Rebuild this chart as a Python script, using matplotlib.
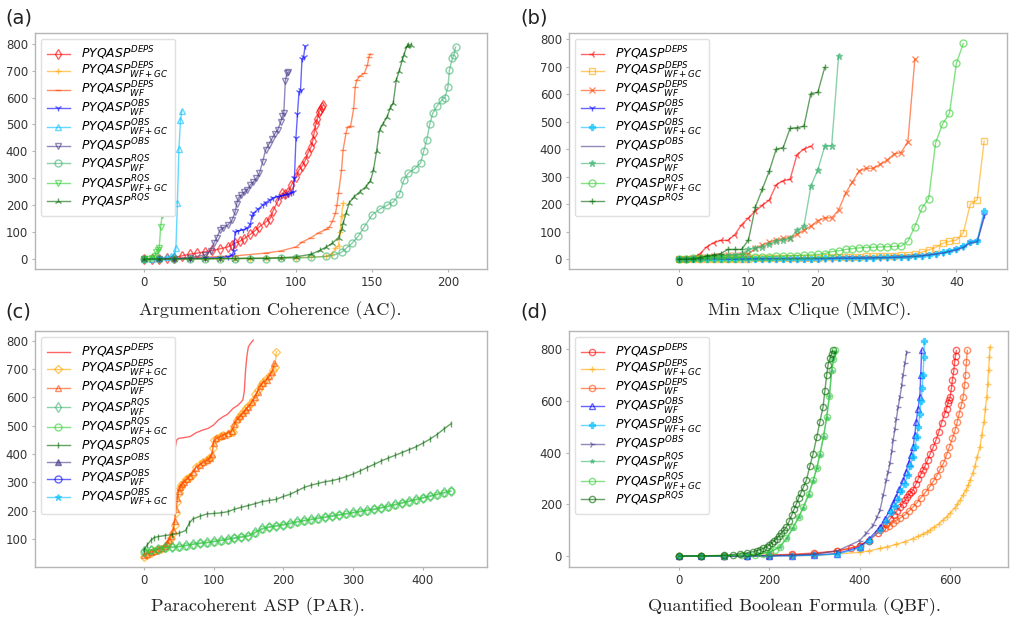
import numpy as np
import matplotlib
matplotlib.use("Agg")
import matplotlib.pyplot as plt

# ---------------- labels ----------------
L_DEPS = r'$PYQASP^{DEPS}$'
L_DEPS_WFGC = r'$PYQASP^{DEPS}_{WF+GC}$'
L_DEPS_WF = r'$PYQASP^{DEPS}_{WF}$'
L_OBS_WF = r'$PYQASP^{OBS}_{WF}$'
L_OBS_WFGC = r'$PYQASP^{OBS}_{WF+GC}$'
L_OBS = r'$PYQASP^{OBS}$'
L_RQS_WF = r'$PYQASP^{RQS}_{WF}$'
L_RQS_WFGC = r'$PYQASP^{RQS}_{WF+GC}$'
L_RQS = r'$PYQASP^{RQS}$'

CAPTIONS = ["Argumentation Coherence (AC).", "Min Max Clique (MMC).",
            "Paracoherent ASP (PAR).", "Quantified Boolean Formula (QBF)."]
PANEL_TAGS = ["(a)", "(b)", "(c)", "(d)"]

# ---------------- (a) AC ----------------
AC_DEPS_X = [0,5,10,15,20,25,30,35,40,45,50,55,58,60,63,66,70,73,76,80,83,85,88,91,93,95,97,100,102,104,106,108,110,111,112,113,114,115,116,117,118]
AC_DEPS_Y = [0,1,2,3,5,12,18,22,27,32,38,45,52,59,66,76,92,105,120,137,150,180,215,245,240,250,275,305,331,345,365,395,417,440,470,500,520,545,555,565,572]
AC_DEPS_WFGC_X = [0,10,20,30,40,50,60,70,80,90,100,110,120,124,126,128,129,130,131]
AC_DEPS_WFGC_Y = [0,0,0,1,1,1,2,2,3,4,5,7,10,20,40,50,100,160,207]
AC_DEPS_WF_X = [0,20,40,60,80,90,100,104,110,115,120,122,124,126,127,128,130,131,133,134,136,138,139,140,142,145,147,148,149]
AC_DEPS_WF_Y = [0,3,7,12,22,30,45,63,80,98,110,119,140,170,200,245,330,405,470,490,495,560,640,665,680,690,720,750,762]
AC_OBS_WF_X = [0,10,20,30,40,50,55,58,59,60,62,65,68,70,71,72,75,78,80,83,85,88,90,93,95,97,98,99,100,101,102,103,104,105,106]
AC_OBS_WF_Y = [0,0,1,2,3,5,8,15,30,100,105,108,115,130,160,170,185,200,210,220,228,232,235,238,240,245,250,300,450,540,620,630,745,750,790]
AC_OBS_WFGC_X = [0,5,10,15,18,20,21,22,23,24,25]
AC_OBS_WFGC_Y = [0,2,4,7,10,15,40,210,410,515,552]
AC_OBS_X = [0,10,20,30,40,44,46,48,50,52,55,58,60,61,62,64,66,68,70,72,74,76,78,80,82,84,86,88,90,91,92,93,94,95]
AC_OBS_Y = [0,1,2,5,15,30,59,80,108,115,125,145,175,205,226,238,248,258,275,287,300,320,360,405,425,445,465,480,510,530,542,660,690,695]
AC_RQS_WF_X = [0,10,20,30,40,50,60,70,80,90,100,110,120,125,130,133,137,141,145,150,155,160,164,168,171,174,178,182,184,186,188,190,193,196,198,200,201,203,204,205]
AC_RQS_WF_Y = [0,0,1,1,1,2,2,2,2,3,4,6,10,15,25,40,59,85,120,163,185,200,212,240,294,320,335,357,400,442,500,542,570,591,600,640,703,747,760,788]
AC_RQS_WFGC_X = [0,3,5,7,8,9,10,11,12,13]
AC_RQS_WFGC_Y = [0,2,5,10,27,32,40,120,165,215]
AC_RQS_X = [0,10,20,30,40,50,60,70,80,90,100,110,116,120,124,128,130,131,133,135,138,142,146,149,151,153,155,157,160,162,164,166,168,170,171,173,174,176]
AC_RQS_Y = [0,0,1,1,1,2,2,3,3,5,8,18,33,45,59,80,110,133,170,208,230,250,269,290,331,400,480,500,529,560,580,665,700,740,760,790,795,797]

# ---------------- (b) MMC (one value per instance index) ----------------
MMC_DEPS_Y = [0,0,3,20,45,60,68,68,88,125,150,175,195,215,270,285,290,380,400,410]
MMC_DEPS_WFGC_Y = [0,0,0,1,1,1,1,2,2,2,2,3,3,3,3,4,4,4,5,5,5,6,6,7,8,9,9,10,10,11,12,13,14,15,17,25,33,42,57,65,69,96,200,215,429]
MMC_DEPS_WF_Y = [0,2,4,6,8,10,12,14,15,16,20,39,51,62,69,75,78,90,105,120,140,150,150,178,239,281,321,330,330,344,360,382,387,427,726]
MMC_OBS_WF_Y = [0,0,0,0,0,0,0,0,0,0,0,1,1,1,1,1,1,1,2,2,2,2,2,3,3,3,3,4,4,5,5,6,7,8,10,12,15,18,22,28,35,45,62,65,160]
MMC_OBS_WFGC_Y = [0,0,0,0,0,0,0,0,0,0,1,1,1,1,1,1,2,2,2,2,2,3,3,3,3,4,4,5,5,6,6,7,8,9,11,13,16,20,25,30,38,48,63,66,175]
MMC_OBS_Y = [0,0,0,0,0,0,0,0,0,0,1,1,1,1,1,1,1,2,2,2,2,2,3,3,3,3,4,4,5,5,6,6,7,9,10,12,15,18,22,27,33,42,58,62,150]
MMC_RQS_WF_Y = [0,2,3,5,8,10,12,14,16,18,35,40,45,55,65,70,75,105,120,265,325,410,412,740]
MMC_RQS_WFGC_Y = [2,2,3,3,4,4,5,5,5,6,6,7,8,9,10,11,12,13,14,15,17,20,27,30,35,38,41,42,43,44,45,46,47,65,118,184,220,423,491,530,712,784]
MMC_RQS_Y = [0,0,2,5,12,15,20,35,35,35,70,190,255,320,400,405,475,478,483,602,606,697]

# ---------------- (c) PAR ----------------
PAR_DEPS_X = [0,3,6,9,13,18,25,32,38,42,45,47,50,58,66,75,85,92,100,107,114,120,128,135,140,142,144,146,148,150,153,157]
PAR_DEPS_Y = [240,265,285,297,310,326,335,345,352,380,420,449,455,458,461,475,485,490,502,520,532,540,561,572,585,591,620,700,750,779,790,802]
PAR_DEPS_WFGC_X = [0,5,10,15,20,25,30,33,36,39,42,44,46,48,50,52,54,56,60,63,66,70,75,80,85,90,94,97,99,100,105,110,114,120,125,128,130,133,137,140,144,147,150,154,157,160,164,168,171,175,181,185,188,190]
PAR_DEPS_WFGC_Y = [38,45,50,56,61,64,70,79,90,105,120,150,190,230,261,280,290,297,310,315,320,330,355,365,372,379,385,390,420,449,458,463,467,472,476,479,500,520,530,540,550,561,570,580,591,610,626,645,655,665,679,695,708,761]
PAR_DEPS_WF_X = [0,5,10,15,20,25,30,33,36,39,42,44,46,48,50,52,55,58,62,66,70,75,80,85,90,95,98,100,104,110,115,120,126,130,134,138,142,146,150,155,159,163,167,171,176,180,184,187]
PAR_DEPS_WF_Y = [42,48,53,58,63,67,75,85,98,112,130,165,205,245,270,285,295,302,312,322,335,352,362,370,377,385,400,440,455,462,468,474,480,505,522,533,544,556,566,582,600,620,640,652,662,675,690,720]
PAR_RQS_WF_X = [0,10,20,30,40,50,60,70,80,90,100,110,120,130,140,150,160,170,180,190,200,210,220,230,240,250,260,270,280,290,300,310,320,330,340,350,360,370,380,390,400,410,420,430,440]
PAR_RQS_WF_Y = [58,62,66,70,72,74,78,82,86,88,92,96,100,104,108,112,125,138,143,147,151,156,162,166,170,174,178,182,186,190,194,198,202,206,211,216,222,228,234,240,246,252,258,264,270]
PAR_RQS_WFGC_X = [0,10,20,30,40,50,60,70,80,90,100,110,120,130,140,150,160,170,180,190,200,210,220,230,240,250,260,270,280,290,300,310,320,330,340,350,360,370,380,390,400,410,420,430,440]
PAR_RQS_WFGC_Y = [55,60,64,68,70,72,76,80,84,86,90,94,98,102,106,110,122,135,141,145,149,154,160,164,168,172,176,180,184,188,192,196,200,204,209,214,220,226,232,238,244,250,256,262,268]
PAR_RQS_X = [0,5,10,15,20,30,40,50,60,65,70,80,90,100,110,120,130,140,150,160,170,180,190,200,210,220,230,240,250,260,270,280,290,300,310,320,330,340,350,360,370,380,390,400,410,420,430,440]
PAR_RQS_Y = [60,80,95,105,108,112,115,120,130,155,170,180,188,190,192,196,205,212,218,225,232,236,240,250,258,270,282,290,296,302,306,312,320,329,340,352,363,375,385,395,405,415,425,438,452,468,488,506]
PAR_OBS_X, PAR_OBS_Y = [], []
PAR_OBS_WF_X, PAR_OBS_WF_Y = [], []
PAR_OBS_WFGC_X, PAR_OBS_WFGC_Y = [], []

# ---------------- (d) QBF ----------------
QBF_DEPS_X = [0,50,100,150,200,250,300,350,380,400,420,440,450,459,467,475,482,489,495,500,505,510,514,518,524,530,535,540,545,550,556,563,569,575,581,588,592,595,598,600,603,605,608,610,612,614]
QBF_DEPS_Y = [0,0,1,2,4,7,12,20,30,40,60,90,108,126,143,160,175,190,203,215,228,240,248,255,278,300,316,332,350,370,396,422,450,480,515,551,570,590,603,615,650,680,715,750,775,795]
QBF_DEPS_WFGC_X = [0,50,100,150,200,250,300,350,400,420,445,460,480,500,518,530,540,548,555,565,575,584,592,600,610,616,622,628,635,640,644,650,655,660,666,670,675,678,681,683,685,687,688]
QBF_DEPS_WFGC_Y = [0,0,0,1,1,2,3,8,15,20,30,36,45,56,68,77,85,92,100,112,125,138,152,166,185,200,216,235,255,275,293,320,350,385,422,470,520,570,615,665,720,770,808]
QBF_DEPS_WF_X = [0,50,100,150,200,250,300,350,400,420,445,455,465,473,481,490,500,509,518,527,535,545,555,563,570,578,585,592,598,605,611,616,620,625,629,632,634,636,638]
QBF_DEPS_WF_Y = [0,0,0,1,2,5,8,20,40,60,100,110,118,128,139,148,160,175,190,207,225,246,268,290,310,335,358,390,420,455,486,520,550,585,615,660,700,750,795]
QBF_OBS_WF_X = [0,50,100,150,200,250,300,350,400,420,445,456,467,474,480,488,496,502,508,513,518,522,525,529,533,535,537]
QBF_OBS_WF_Y = [0,0,0,1,1,2,4,10,35,65,113,145,178,205,230,260,293,325,360,390,422,470,520,570,615,700,795]
QBF_OBS_WFGC_X = [0,50,100,150,200,250,300,350,400,420,445,458,470,478,485,492,500,506,512,517,522,526,530,533,536,538,540,542,543]
QBF_OBS_WFGC_Y = [0,0,0,1,1,2,3,8,30,60,100,135,170,195,220,250,280,315,350,385,420,460,500,550,600,650,700,770,830]
QBF_OBS_X = [0,50,100,150,200,250,300,350,400,415,430,438,445,452,459,463,467,471,474,478,481,485,489,493,496,500,504]
QBF_OBS_Y = [0,0,0,1,2,4,8,20,60,90,120,150,178,235,293,325,360,405,448,490,530,575,615,660,700,745,789]
QBF_RQS_WF_X = [0,50,100,150,200,223,240,253,265,275,287,297,305,312,320,327,333,338,342,345]
QBF_RQS_WF_Y = [0,1,2,3,15,35,70,110,150,185,235,290,340,390,460,535,620,715,760,790]
QBF_RQS_WFGC_X = [0,50,100,140,168,185,201,212,223,238,253,265,275,287,297,305,312,320,327,333,338,342,345]
QBF_RQS_WFGC_Y = [0,1,2,4,5,10,17,25,36,70,113,150,190,240,293,340,396,465,538,620,718,760,795]
QBF_RQS_X = [0,50,100,119,135,150,164,172,180,187,194,200,205,210,216,222,227,233,238,244,250,255,260,265,270,276,282,290,297,305,312,319,323,327,330,334,338,340]
QBF_RQS_Y = [0,1,3,6,9,12,17,21,25,30,36,43,50,58,68,79,90,101,113,135,160,182,203,224,245,268,293,350,396,460,520,577,640,700,740,765,782,795]

# ---------------- drawing ----------------
W, H = 1020, 623
fig = plt.figure(figsize=(W / 100, H / 100), dpi=100)

def px_axes(l, r, t, b):
    return fig.add_axes([l / W, 1 - b / H, (r - l) / W, (b - t) / H])

def style(ax):
    for s in ax.spines.values():
        s.set_color('#b5b5b5')
        s.set_linewidth(1.0)
    ax.tick_params(length=2, color='#b5b5b5', labelsize=8.5, labelcolor='#333333', pad=3)

def series(ax, x, y, color, marker, label, open_=True, ms=5, alpha=0.6, lw=1.0):
    kw = dict(color=color, marker=marker, label=label, lw=lw, alpha=alpha, ms=ms, mew=1.0)
    if open_ and marker not in ('+', 'x', '1', '2', '3', '4', '|', '_', ''):
        kw['mfc'] = 'none'
    ax.plot(x, y, **kw)

def legend(ax):
    ax.legend(loc='upper left', fontsize=8.9, handlelength=1.9, labelspacing=-0.1,
              handletextpad=0.9, borderaxespad=0.45, framealpha=1.0,
              edgecolor='#e0e0e0', borderpad=0.5)

# (a)
ax = px_axes(35, 487, 33, 269)
series(ax, AC_DEPS_X, AC_DEPS_Y, 'red', 'd', L_DEPS)
series(ax, AC_DEPS_WFGC_X, AC_DEPS_WFGC_Y, 'orange', '+', L_DEPS_WFGC)
series(ax, AC_DEPS_WF_X, AC_DEPS_WF_Y, 'orangered', '_', L_DEPS_WF)
series(ax, AC_OBS_WF_X, AC_OBS_WF_Y, 'blue', '1', L_OBS_WF)
series(ax, AC_OBS_WFGC_X, AC_OBS_WFGC_Y, 'deepskyblue', '^', L_OBS_WFGC)
series(ax, AC_OBS_X, AC_OBS_Y, 'darkslateblue', 'v', L_OBS)
series(ax, AC_RQS_WF_X, AC_RQS_WF_Y, 'mediumseagreen', 'o', L_RQS_WF)
series(ax, AC_RQS_WFGC_X, AC_RQS_WFGC_Y, 'limegreen', 'v', L_RQS_WFGC)
series(ax, AC_RQS_X, AC_RQS_Y, 'darkgreen', '2', L_RQS)
ax.set_xlim(-71.7, 225.7)
ax.set_ylim(-37, 840)
ax.set_xticks([0, 50, 100, 150, 200])
ax.set_yticks(range(0, 801, 100))
style(ax); legend(ax)

# (b)
ax = px_axes(569, 1007, 33, 269)
def idx(v):
    return np.arange(len(v))
series(ax, idx(MMC_DEPS_Y), MMC_DEPS_Y, 'red', '3', L_DEPS)
series(ax, idx(MMC_DEPS_WFGC_Y), MMC_DEPS_WFGC_Y, 'orange', 's', L_DEPS_WFGC)
series(ax, idx(MMC_DEPS_WF_Y), MMC_DEPS_WF_Y, 'orangered', 'x', L_DEPS_WF)
series(ax, idx(MMC_OBS_WF_Y), MMC_OBS_WF_Y, 'blue', '1', L_OBS_WF)
series(ax, idx(MMC_OBS_WFGC_Y), MMC_OBS_WFGC_Y, 'deepskyblue', 'P', L_OBS_WFGC, open_=False)
series(ax, idx(MMC_OBS_Y), MMC_OBS_Y, 'darkslateblue', '', L_OBS)
series(ax, idx(MMC_RQS_WF_Y), MMC_RQS_WF_Y, 'mediumseagreen', '*', L_RQS_WF, open_=False)
series(ax, idx(MMC_RQS_WFGC_Y), MMC_RQS_WFGC_Y, 'limegreen', 'o', L_RQS_WFGC)
series(ax, idx(MMC_RQS_Y), MMC_RQS_Y, 'darkgreen', '+', L_RQS)
ax.set_xlim(-15.9, 47.3)
ax.set_ylim(-36, 822)
ax.set_xticks([0, 10, 20, 30, 40])
ax.set_yticks(range(0, 801, 100))
style(ax); legend(ax)

# (c)
ax = px_axes(35, 487, 331, 567)
series(ax, PAR_DEPS_X, PAR_DEPS_Y, 'red', '', L_DEPS)
series(ax, PAR_DEPS_WFGC_X, PAR_DEPS_WFGC_Y, 'orange', 'D', L_DEPS_WFGC, ms=4.5)
series(ax, PAR_DEPS_WF_X, PAR_DEPS_WF_Y, 'orangered', '^', L_DEPS_WF, ms=4)
series(ax, PAR_RQS_WF_X, PAR_RQS_WF_Y, 'mediumseagreen', 'd', L_RQS_WF)
series(ax, PAR_RQS_WFGC_X, PAR_RQS_WFGC_Y, 'limegreen', 'o', L_RQS_WFGC)
series(ax, PAR_RQS_X, PAR_RQS_Y, 'darkgreen', '|', L_RQS)
series(ax, PAR_OBS_X, PAR_OBS_Y, 'darkslateblue', '^', L_OBS, open_=False)
series(ax, PAR_OBS_WF_X, PAR_OBS_WF_Y, 'blue', 'o', L_OBS_WF)
series(ax, PAR_OBS_WFGC_X, PAR_OBS_WFGC_Y, 'deepskyblue', '*', L_OBS_WFGC, open_=False)
ax.set_xlim(-156, 492)
ax.set_ylim(1, 834)
ax.set_xticks([0, 100, 200, 300, 400])
ax.set_yticks(range(100, 801, 100))
style(ax); legend(ax)

# (d)
ax = px_axes(569, 1008, 331, 567)
series(ax, QBF_DEPS_X, QBF_DEPS_Y, 'red', 'o', L_DEPS, ms=4.5)
series(ax, QBF_DEPS_WFGC_X, QBF_DEPS_WFGC_Y, 'orange', '+', L_DEPS_WFGC, ms=4)
series(ax, QBF_DEPS_WF_X, QBF_DEPS_WF_Y, 'orangered', 'o', L_DEPS_WF, ms=4.5)
series(ax, QBF_OBS_WF_X, QBF_OBS_WF_Y, 'blue', '^', L_OBS_WF, ms=4)
series(ax, QBF_OBS_WFGC_X, QBF_OBS_WFGC_Y, 'deepskyblue', 'P', L_OBS_WFGC, open_=False, ms=4)
series(ax, QBF_OBS_X, QBF_OBS_Y, 'darkslateblue', '4', L_OBS, ms=4.5)
series(ax, QBF_RQS_WF_X, QBF_RQS_WF_Y, 'mediumseagreen', '*', L_RQS_WF, open_=False, ms=3)
series(ax, QBF_RQS_WFGC_X, QBF_RQS_WFGC_Y, 'limegreen', 'o', L_RQS_WFGC, ms=4.5)
series(ax, QBF_RQS_X, QBF_RQS_Y, 'darkgreen', 'o', L_RQS, ms=4.5)
ax.set_xlim(-243, 728)
ax.set_ylim(-42, 870)
ax.set_xticks([0, 200, 400, 600])
ax.set_yticks(range(0, 801, 200))
style(ax); legend(ax)

# captions and panel tags
cap_pos = [(270, 311), (810, 311), (258, 607), (794, 607)]
for (cx, cy), txt in zip(cap_pos, CAPTIONS):
    fig.text(cx / W, 1 - cy / H, txt, family='cmr10', fontsize=13.2,
             ha='center', va='center', color='#222222')
tag_pos = [(5, 18), (520, 18), (5, 312), (520, 312)]
for (tx, ty), txt in zip(tag_pos, PANEL_TAGS):
    fig.text(tx / W, 1 - ty / H, txt, fontsize=14, ha='left', va='center', color='#222222')

fig.savefig('out.png', dpi=100)
